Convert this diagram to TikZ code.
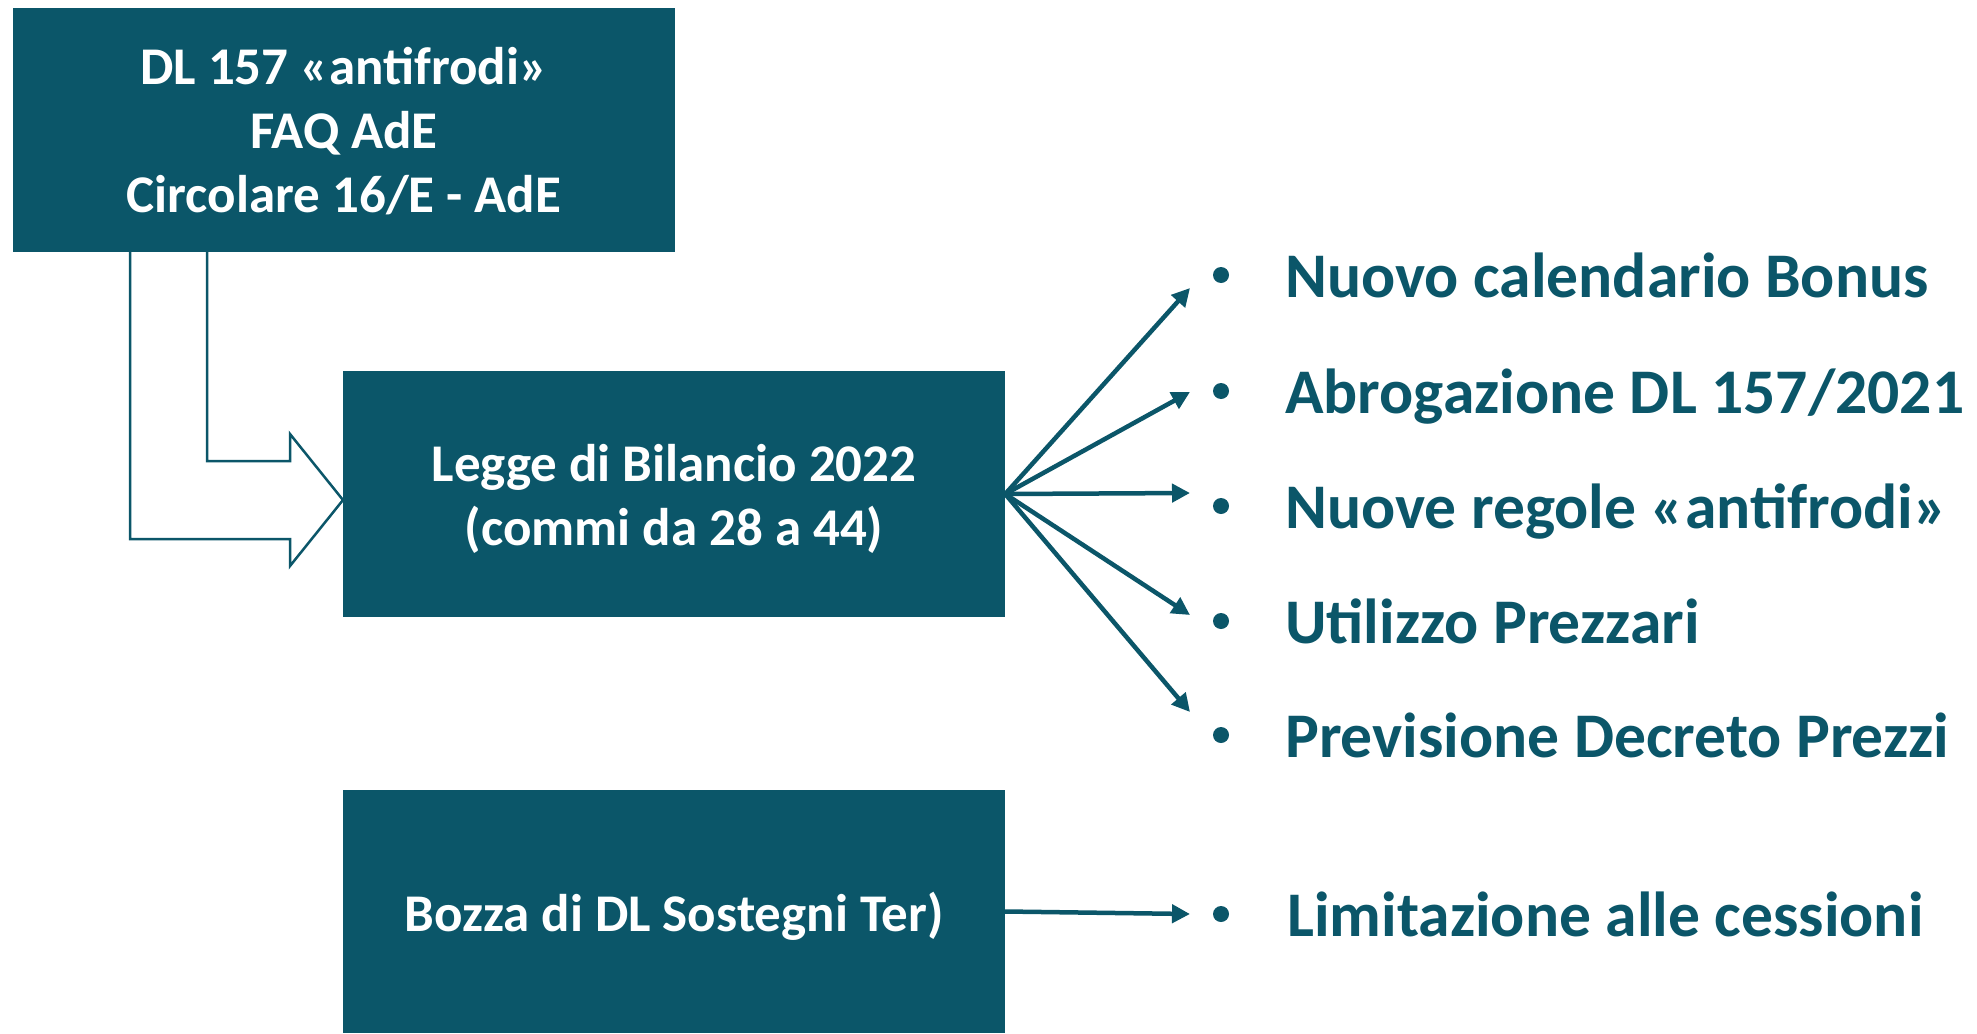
\documentclass[tikz,border=0pt]{standalone}
\usepackage{fontspec}
\setmainfont{Carlito}
\usetikzlibrary{arrows.meta}
\definecolor{teal1}{RGB}{11,86,105}
\begin{document}
\begin{tikzpicture}[x=1pt,y=-1pt,
 boxnode/.style={fill=teal1, draw=none, minimum width=662pt, inner sep=0pt},
 boxtext/.style={inner sep=0pt, text=white, font=\fontsize{53}{64}\selectfont\bfseries, align=center},
 itemtext/.style={anchor=base west, text=teal1, inner sep=0pt, font=\fontsize{63.6}{70}\selectfont\bfseries},
 bulletdot/.style={circle, fill=teal1, minimum size=16pt, inner sep=0pt},
 linkarrow/.style={draw=teal1, line width=4.5pt, -{Triangle[length=18pt,width=18pt]}},
 bentarrow/.style={draw=teal1, fill=white, line width=2.5pt, line join=miter}]
\useasboundingbox (0,0) rectangle (1977,1033);
\node[boxnode, minimum height=244pt] (dl) at (344,130) {};
\node[boxtext] (dlt) at (344,131) {DL 157 «antifrodi»\\FAQ AdE\\Circolare 16/E - AdE};
\node[boxnode, minimum height=246pt] (lb) at (674,494) {};
\node[boxtext] (lbt) at (674,499) {Legge di Bilancio 2022\\(commi da 28 a 44)};
\node[boxnode, minimum height=243pt] (bz) at (674,911.5) {};
\node[boxtext] (bzt) at (674,916) {Bozza di DL Sostegni Ter)};
% bent block arrow
\draw[bentarrow] (207,252) -- (207,461) -- (290,461) -- (290,434) -- (343,500) -- (290,566) -- (290,539) -- (130,539) -- (130,252);
% item texts
\node[itemtext] (i1) at (1285,297) {Nuovo calendario Bonus};
\node[itemtext] (i2) at (1285,413) {Abrogazione DL 157/2021};
\node[itemtext] (i3) at (1285,528) {Nuove regole «antifrodi»};
\node[itemtext] (i4) at (1285,643) {Utilizzo Prezzari};
\node[itemtext] (i5) at (1285,757) {Previsione Decreto Prezzi};
\node[itemtext] (i6) at (1287,936) {Limitazione alle cessioni};
\foreach \n/\y in {1/275,2/391,3/506,4/621,5/735,6/914}
  \node[bulletdot] (b\n) at (1221,\y) {};
% arrows
\coordinate (t1) at (1190,288);
\coordinate (t2) at (1190,392);
\coordinate (t3) at (1190,493);
\coordinate (t4) at (1190,615);
\coordinate (t5) at (1190,712);
\coordinate (t6) at (1190,914);
\foreach \n in {1,...,5} \draw[linkarrow] (lb.east) -- (t\n);
\draw[linkarrow] (bz.east) -- (t6);
\end{tikzpicture}
\end{document}
